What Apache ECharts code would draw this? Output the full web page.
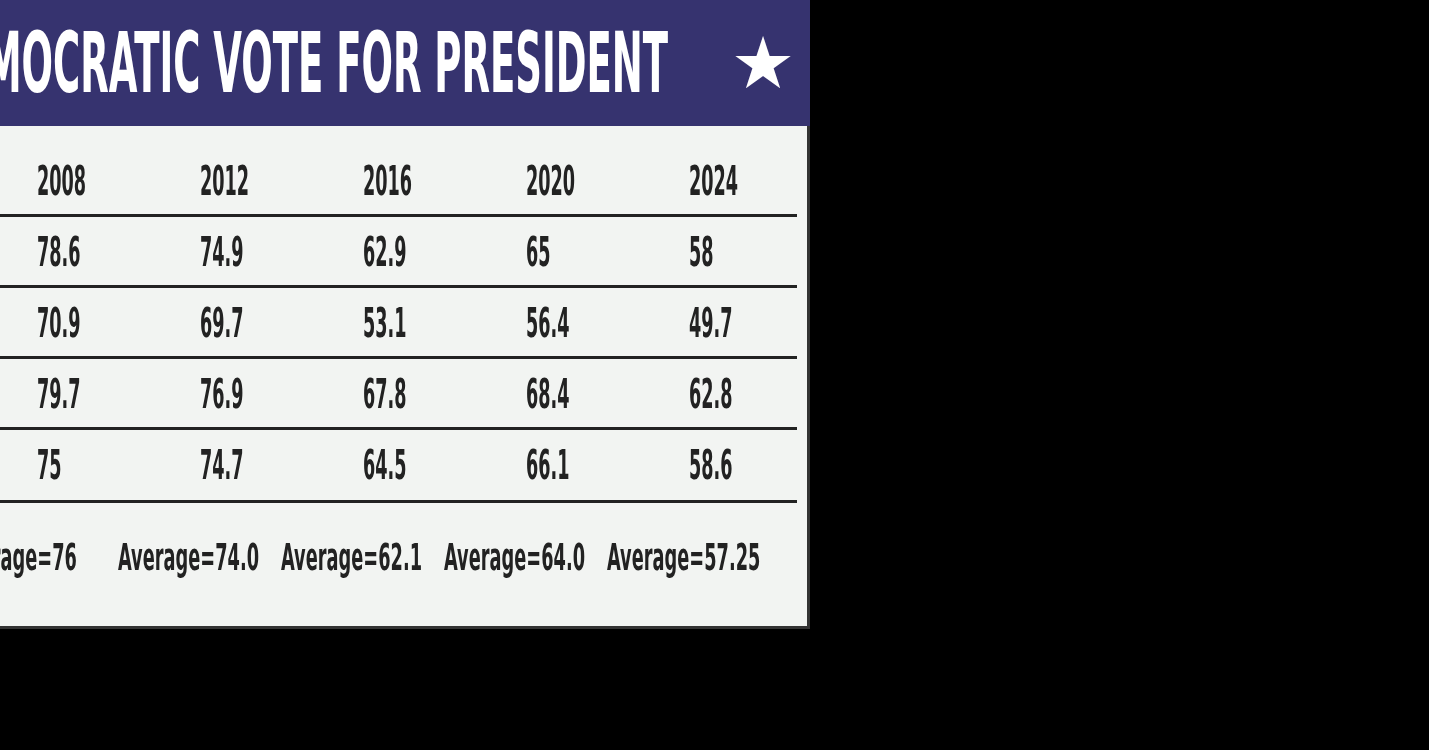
<!DOCTYPE html>
<html><head><meta charset="utf-8">
<script src="https://cdn.jsdelivr.net/npm/echarts@6/dist/echarts.min.js"></script>
<style>html,body{margin:0;padding:0;background:#000}#c{width:1429px;height:750px}</style>
</head><body><div id="c"></div>
<script>
const title = 'DEMOCRATIC VOTE FOR PRESIDENT';
const years = ['2008', '2012', '2016', '2020', '2024'];
const row1 = [78.6, 74.9, 62.9, 65, 58];
const row2 = [70.9, 69.7, 53.1, 56.4, 49.7];
const row3 = [79.7, 76.9, 67.8, 68.4, 62.8];
const row4 = [75, 74.7, 64.5, 66.1, 58.6];
const averages = ['76', '74.0', '62.1', '64.0', '57.25'];

const rows = [years, row1, row2, row3, row4];
const cells = [];
rows.forEach((r, ri) => r.forEach((v, ci) => cells.push([ci, ri, String(v), 0])));
averages.forEach((v, ci) => cells.push([ci, 5, 'Average=' + v, 1]));

const colW = 163, rowH = 71;
const xmin = -37 / colW, xmax = xmin + 1429 / colW;
const ymin = -185 / rowH, ymax = ymin + 750 / rowH;
const sepRows = [0.43, 1.43, 2.42, 3.42, 4.45];
const lineEnd = xmin + 797 / colW;
const FONT = '"Liberation Sans Narrow", "DejaVu Sans Condensed", sans-serif';

const chart = echarts.init(document.getElementById('c'));
chart.setOption({
  backgroundColor: '#000',
  animation: false,
  grid: {left: 0, top: 0, width: 1429, height: 750, outerBoundsMode: 'none', containLabel: false},
  xAxis: {type: 'value', min: xmin, max: xmax, show: false},
  yAxis: {type: 'value', min: ymin, max: ymax, inverse: true, show: false},
  graphic: [
    {type: 'rect', shape: {x: 0, y: 0, width: 810, height: 629}, style: {fill: '#333'}, z: -10},
    {type: 'rect', shape: {x: 0, y: 0, width: 807, height: 626}, style: {fill: '#f2f4f2'}, z: -9},
    {type: 'rect', shape: {x: 0, y: 0, width: 810, height: 126}, style: {fill: '#36336f'}, z: -8},
    {type: 'text', x: 668, y: 70, scaleX: 0.49, originX: 0, originY: 0,
      style: {text: title, fill: '#fff', font: 'bold 84px ' + FONT, textAlign: 'right', textVerticalAlign: 'middle'}},
    {type: 'text', x: 763, y: 69,
      style: {text: '★', fill: '#fff', font: '72px "DejaVu Sans", sans-serif', textAlign: 'center', textVerticalAlign: 'middle'}}
  ],
  series: [{
    type: 'custom',
    data: cells,
    renderItem: (params, api) => {
      const p = api.coord([api.value(0), api.value(1)]);
      const avg = api.value(3) === 1;
      const x = avg ? p[0] - 82 : p[0];
      const y = avg ? p[1] + 20 : p[1];
      return {
        type: 'text', x: x, y: y, scaleX: avg ? 0.52 : 0.49, originX: 0, originY: 0,
        style: {text: cells[params.dataIndex][2], fill: '#222',
          font: (avg ? 'bold 38px ' : 'bold 40px ') + FONT,
          textAlign: 'left', textVerticalAlign: 'middle'}
      };
    },
    markLine: {
      silent: true, symbol: 'none', label: {show: false},
      lineStyle: {color: '#222', width: 3, type: 'solid'},
      data: sepRows.map(r => [{coord: [xmin, r]}, {coord: [lineEnd, r]}])
    }
  }]
});
</script></body></html>
